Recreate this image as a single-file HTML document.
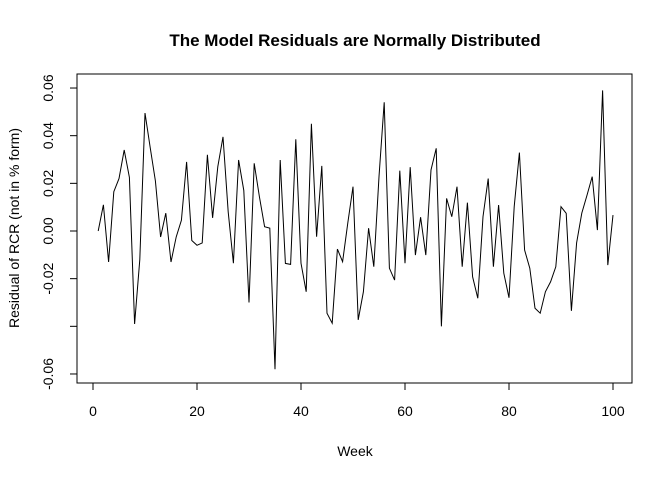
<!DOCTYPE html>
<html><head><meta charset="utf-8"><style>
body{margin:0;background:#fff;}
svg{display:block;font-family:"Liberation Sans",Arial,sans-serif;}
</style></head><body>
<svg id="chart" width="672" height="480">
<text x="355" y="46" text-anchor="middle" font-size="17" font-weight="bold">The Model Residuals are Normally Distributed</text>
<text x="355" y="456" text-anchor="middle" font-size="14">Week</text>
<text transform="translate(19,228) rotate(-90)" text-anchor="middle" font-size="14">Residual of RCR (not in % form)</text>
<rect x="77" y="74" width="555" height="309" fill="none" stroke="#000" stroke-width="1"/>
<g id="axes"></g>
<polyline id="series" fill="none" stroke="#000" stroke-width="1"/>
</svg>
<script>
const weeks = Array.from({length:100},(_, i)=>i+1);
const residuals = [0.000,0.011,-0.013,0.0165,0.022,0.034,0.0225,-0.039,-0.012,0.0495,
0.035,0.021,-0.0025,0.0075,-0.013,-0.0025,0.0045,0.029,-0.004,-0.006,
-0.005,0.032,0.0055,0.027,0.0395,0.008,-0.0135,0.0298,0.017,-0.030,
0.0284,0.0144,0.0018,0.0012,-0.058,0.0298,-0.0136,-0.014,0.0385,-0.0135,
-0.0255,0.045,-0.0024,0.0273,-0.0345,-0.0387,-0.0076,-0.0129,0.0034,0.0186,
-0.0373,-0.0255,0.0012,-0.015,0.0228,0.054,-0.0156,-0.0206,0.0253,-0.0135,
0.0268,-0.0101,0.0058,-0.0101,0.0256,0.0347,-0.040,0.0137,0.006,0.0186,
-0.015,0.0119,-0.0192,-0.0282,0.006,0.022,-0.015,0.0109,-0.0177,-0.028,
0.0102,0.0329,-0.008,-0.0156,-0.0324,-0.0345,-0.0255,-0.0213,-0.015,0.0102,
0.0074,-0.0335,-0.005,0.0075,0.015,0.0228,0.0004,0.059,-0.0143,0.0067];
const xTicks = [0,20,40,60,80,100];
const yTicks = [-0.06,-0.04,-0.02,0,0.02,0.04,0.06];
const yTickLabels = ["-0.06","","-0.02","0.00","0.02","0.04","0.06"];
const sx = v => 93 + v*5.2;
const sy = v => 231 - v*2383;
const NS="http://www.w3.org/2000/svg";
const axes=document.getElementById('axes');
function el(t,a){const e=document.createElementNS(NS,t);for(const k in a)e.setAttribute(k,a[k]);axes.appendChild(e);return e;}
const xl=el('line',{x1:sx(0),x2:sx(100),y1:383,y2:383,stroke:'#000'});


xTicks.forEach(t=>{
  const l=el('line',{x1:sx(t),x2:sx(t),y1:383,y2:390,stroke:'#000'});
  
  
  const tx=el('text',{x:sx(t),y:416,'text-anchor':'middle','font-size':'14'});
  tx.textContent=t;
  
  
});
const yl=el('line',{x1:77,x2:77,y1:sy(0.06),y2:sy(-0.06),stroke:'#000'});


yTicks.forEach((t,i)=>{
  const l=el('line',{x1:70,x2:77,y1:sy(t),y2:sy(t),stroke:'#000'});
  
  
  if(yTickLabels[i]){
    const tx=el('text',{transform:`translate(53,${sy(t)}) rotate(-90)`,'text-anchor':'middle','font-size':'14'});
    tx.textContent=yTickLabels[i];
    
    
  }
});
document.getElementById('series').setAttribute('points',weeks.map((w,i)=>sx(w)+','+sy(residuals[i])).join(' '));
</script>
</body></html>
